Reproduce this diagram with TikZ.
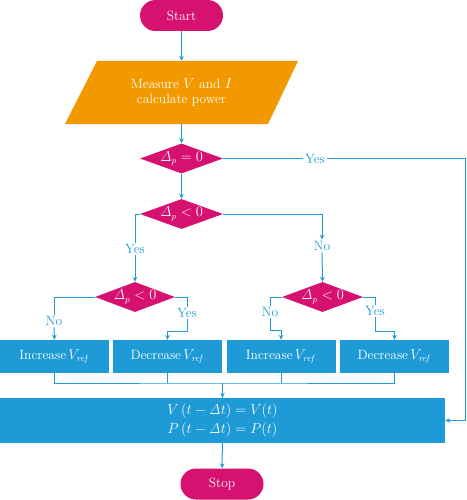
\documentclass[tikz,border=0pt]{standalone}
\usepackage{amsmath}
\usepackage{tikz}
\usetikzlibrary{shapes.geometric,arrows.meta,calc,positioning}
\definecolor{flowpink}{RGB}{214,17,111}
\definecolor{flowgold}{RGB}{242,153,0}
\definecolor{flowblue}{RGB}{30,155,215}
\tikzset{
    txt/.style={font=\fontsize{13.5}{15}\selectfont},
    term/.style={txt,fill=flowpink,text=white,rounded corners=15.5pt,minimum width=83pt,minimum height=31pt,inner sep=0pt},
    test/.style={txt,diamond,fill=flowpink,text=white,inner sep=0pt,aspect=2.7,minimum width=83pt,minimum height=30pt},
    act/.style={txt,fill=flowblue,text=white,minimum width=109pt,minimum height=33pt,inner sep=0pt},
    lbl/.style={txt,text=flowblue,inner sep=1.5pt},
    link/.style={flowblue,line width=1pt},
    arr/.style={link,-{Stealth[length=5pt,width=4.5pt]}}
}
\begin{document}
\begin{tikzpicture}[x=1pt,y=-1pt]
                \useasboundingbox (0,0) rectangle (466,500);
                \node[term] (start) at (181.5,15.5) {Start};
                \fill[flowgold] (65,124) -- (97,61) -- (298,61) -- (268,124) -- cycle;
                \node[txt,text=white,align=center,minimum height=63pt,inner sep=0pt] (meas) at (181.5,92.5)
                    {Measure $V$ and $I$\\calculate power};
                \node[test] (d1) at (181.5,158.5) {$\mathit{\Delta}_p = 0$};
                \node[test] (d2) at (181.5,214) {$\mathit{\Delta}_p < 0$};
                \node[test,minimum width=80pt] (d3) at (135,297) {$\mathit{\Delta}_p < 0$};
                \node[test,minimum width=81pt] (d4) at (322.5,297) {$\mathit{\Delta}_p < 0$};
                \node[act] (b1) at (54.5,356.5) {Increase\,$V_{\mathit{ref}}$};
                \node[act] (b2) at (167.5,356.5) {Decrease\,$V_{\mathit{ref}}$};
                \node[act] (b3) at (281,356.5) {Increase\,$V_{\mathit{ref}}$};
                \node[act] (b4) at (394.5,356.5) {Decrease\,$V_{\mathit{ref}}$};
                \node[txt,fill=flowblue,text=white,align=center,font=\fontsize{13.5}{19}\selectfont,
                    minimum width=445pt,minimum height=45pt,inner sep=0pt] (main) at (222.5,420.5)
                    {$V\,(t - \mathit{\Delta} t) = V(t)$\\$P\,(t - \mathit{\Delta} t) = P(t)$};
                \node[term] (stop) at (222,484) {Stop};
                \node[lbl] (yes1) at (315,158.5) {Yes};
                \node[lbl] (yes2) at (135,249) {Yes};
                \node[lbl] (no2) at (322,246) {No};
                \node[lbl] (no3) at (54,321) {No};
                \node[lbl] (yes3) at (187,313) {Yes};
                \node[lbl] (no4) at (270,312) {No};
                \node[lbl] (yes4) at (375,311) {Yes};
                \coordinate (loop) at (465,158.5);
                \coordinate (join) at (222.5,383);
                \draw[arr] (start) -- (meas);
                \draw[arr] (meas) -- (d1);
                \draw[arr] (d1) -- (d2);
                \draw[link] (d1.east) -- (yes1.west);
                \draw[arr] (yes1.east) -- (loop) |- (main.east);
                \draw[link] (d2.west) -| (yes2.north);
                \draw[arr] (yes2.south) -- (d3.north);
                \draw[arr] (d2.east) -| (no2.north);
                \draw[arr] (no2.south) -- (d4.north);
                \draw[link] (d3.west) -| (no3.north);
                \draw[arr] (no3.south) -- (b1.north);
                \draw[link] (d3.east) -| (yes3.north);
                \draw[arr] (yes3.south) |- ($(b2.north)+(0,-8)$) -- (b2.north);
                \draw[link] (d4.west) -| (no4.north);
                \draw[arr] (no4.south) |- ($(b3.north)+(0,-9)$) -- (b3.north);
                \draw[link] (d4.east) -| (yes4.north);
                \draw[arr] (yes4.south) |- ($(b4.north)+(0,-8)$) -- (b4.north);
                \draw[link] (b1.south) |- (join) -| (b4.south);
                \draw[link] (b2.south) -- (b2.south |- join);
                \draw[link] (b3.south) -- (b3.south |- join);
                \draw[arr] (join) -- (main.north);
                \draw[arr] (main) -- (stop);
            \end{tikzpicture}
\end{document}
